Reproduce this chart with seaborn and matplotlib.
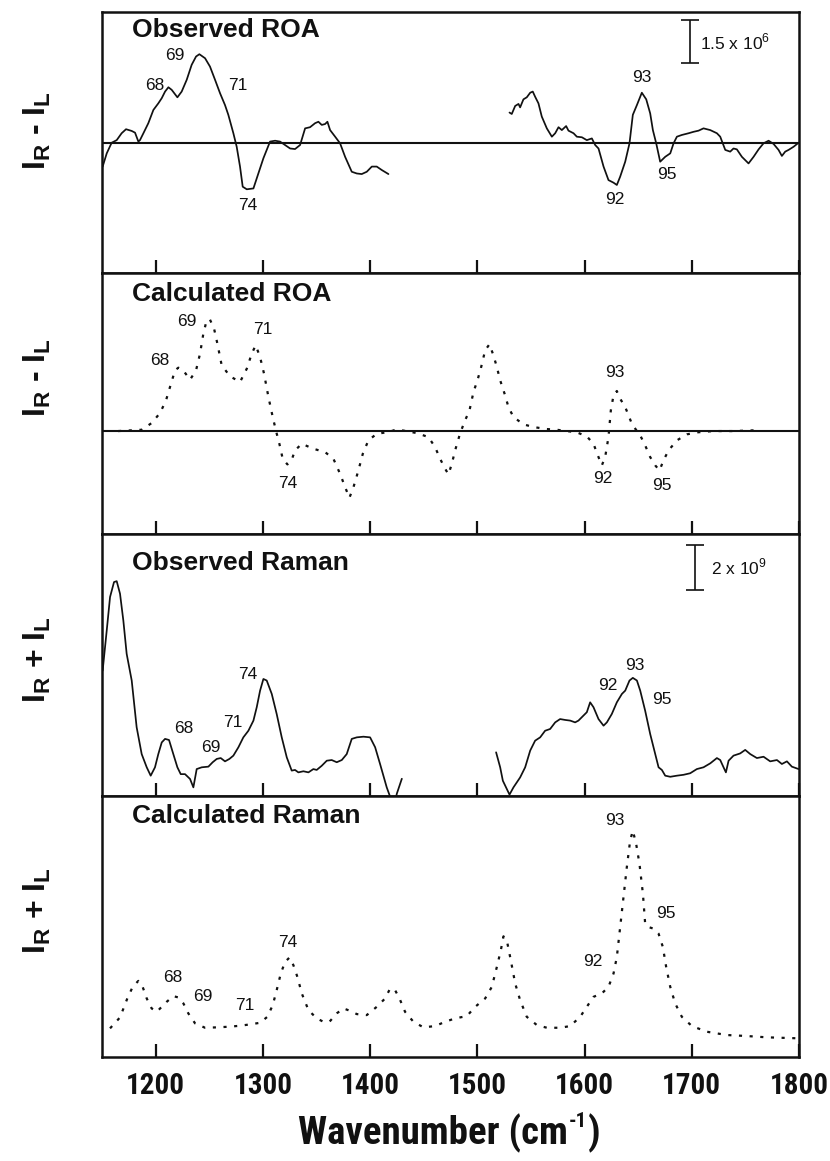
import matplotlib
matplotlib.use("Agg")
import matplotlib.pyplot as plt
import seaborn as sns
import pandas as pd
from matplotlib import font_manager
from matplotlib.font_manager import FontProperties

# ---------------- data (wavenumber in cm-1, intensities in arbitrary units) ----------------
# Observed ROA (units of 1e6), two measured segments
obs_roa_wn_a = [1150.6, 1154.4, 1159.0, 1163.7, 1168.3, 1172.4, 1177.7, 1180.8, 1183.9, 1185.4,
                1188.6, 1193.2, 1197.9, 1202.5, 1205.7, 1208.8, 1211.9, 1215.0, 1220.3, 1224.3,
                1229.0, 1233.6, 1237.7, 1240.8, 1246.1, 1250.7, 1255.4, 1260.1, 1264.7, 1267.8,
                1272.5, 1275.6, 1278.7, 1281.2, 1285.0, 1291.2, 1295.8, 1300.5, 1306.7, 1311.4,
                1316.0, 1320.7, 1325.4, 1330.0, 1334.7, 1339.4, 1344.0, 1348.7, 1351.8, 1354.9,
                1358.0, 1360.2, 1362.7, 1367.4, 1372.0, 1376.7, 1382.9, 1387.6, 1392.2, 1396.9,
                1401.6, 1406.2, 1410.9, 1417.1]
obs_roa_val_a = [-0.82, -0.36, 0.01, 0.10, 0.34, 0.48, 0.42, 0.36, 0.05, 0.10,
                 0.34, 0.69, 1.15, 1.38, 1.56, 1.79, 1.94, 1.85, 1.59, 1.79,
                 2.20, 2.72, 3.01, 3.09, 2.95, 2.66, 2.20, 1.73, 1.32, 0.98,
                 0.34, -0.13, -0.82, -1.52, -1.61, -1.58, -1.06, -0.53, 0.05, 0.08,
                 0.05, -0.07, -0.19, -0.21, -0.07, 0.51, 0.55, 0.69, 0.74, 0.63,
                 0.66, 0.74, 0.45, 0.22, -0.01, -0.48, -1.00, -1.06, -1.08, -1.00,
                 -0.82, -0.82, -0.94, -1.08]
obs_roa_wn_b = [1530.0, 1532.1, 1535.3, 1538.4, 1539.9, 1543.0, 1546.1, 1549.3, 1551.7, 1553.9,
                1557.0, 1560.1, 1564.8, 1569.5, 1572.6, 1575.7, 1578.8, 1582.8, 1585.0, 1589.7,
                1592.8, 1597.5, 1602.1, 1606.8, 1609.9, 1613.0, 1617.7, 1622.3, 1627.0, 1630.1,
                1633.2, 1637.9, 1641.9, 1645.0, 1648.8, 1653.4, 1657.5, 1661.2, 1663.7, 1666.8,
                1670.5, 1675.2, 1679.9, 1683.0, 1686.1, 1690.7, 1697.0, 1701.6, 1706.3, 1710.9,
                1717.2, 1723.4, 1726.5, 1731.2, 1735.8, 1738.9, 1742.0, 1746.7, 1752.9, 1757.6,
                1762.3, 1766.9, 1771.6, 1776.2, 1780.9, 1784.0, 1787.1, 1790.2, 1794.9, 1799.6]
obs_roa_val_b = [1.06, 1.01, 1.29, 1.36, 1.24, 1.52, 1.59, 1.75, 1.79, 1.61,
                 1.38, 0.92, 0.51, 0.22, 0.34, 0.55, 0.45, 0.59, 0.43, 0.34,
                 0.22, 0.20, 0.10, 0.16, -0.07, -0.19, -0.82, -1.29, -1.38, -1.46,
                 -1.17, -0.65, -0.01, 0.98, 1.32, 1.75, 1.52, 1.03, 0.45, -0.01,
                 -0.65, -0.48, -0.36, -0.01, 0.22, 0.28, 0.34, 0.39, 0.43, 0.51,
                 0.45, 0.34, 0.22, -0.24, -0.30, -0.19, -0.22, -0.48, -0.71, -0.48,
                 -0.22, -0.01, 0.08, -0.03, -0.24, -0.45, -0.30, -0.24, -0.13, 0.01]

# Calculated ROA (arbitrary units)
calc_roa_wn = [1165.0, 1187.0, 1196.3, 1204.1, 1209.7, 1213.4, 1218.1, 1221.2, 1225.3, 1232.1,
               1237.7, 1241.4, 1244.5, 1247.6, 1250.7, 1254.5, 1257.6, 1261.6, 1269.4, 1278.7,
               1285.0, 1289.6, 1293.3, 1297.4, 1301.1, 1305.2, 1309.2, 1312.3, 1315.4, 1318.5,
               1322.9, 1326.9, 1330.0, 1336.3, 1347.1, 1358.0, 1365.8, 1372.0, 1376.7, 1380.7,
               1384.5, 1389.1, 1393.2, 1398.4, 1406.2, 1417.1, 1424.9, 1443.5, 1454.4, 1460.6,
               1465.3, 1470.0, 1473.1, 1476.2, 1479.3, 1484.0, 1488.6, 1492.7, 1496.4, 1500.1,
               1503.2, 1507.3, 1511.3, 1515.0, 1518.2, 1521.3, 1525.9, 1529.0, 1533.7, 1543.0,
               1552.4, 1564.8, 1574.1, 1583.5, 1592.8, 1602.1, 1608.3, 1613.0, 1616.1, 1619.2,
               1622.3, 1624.5, 1627.0, 1630.1, 1633.2, 1637.9, 1644.1, 1648.8, 1651.9, 1656.5,
               1661.2, 1665.9, 1669.9, 1673.6, 1678.3, 1686.1, 1695.4, 1704.7, 1720.3, 1738.9,
               1757.6]
calc_roa_val = [0.0, 0.13, 0.8, 1.8, 3.07, 4.4, 6.07, 6.33, 6.13, 5.13,
                6.07, 7.73, 9.73, 11.07, 11.13, 10.23, 8.73, 6.57, 5.47, 4.9,
                6.23, 7.73, 8.57, 7.4, 5.73, 3.4, 1.4, 0.0, -1.27, -2.77,
                -3.33, -2.87, -1.93, -1.27, -1.77, -2.1, -2.77, -4.27, -5.6, -6.67,
                -5.6, -3.93, -2.27, -0.93, -0.27, -0.1, 0.17, -0.2, -0.6, -1.6,
                -2.77, -3.77, -4.33, -3.27, -1.93, -0.2, 1.07, 2.07, 3.9, 5.07,
                6.23, 8.07, 8.67, 7.57, 6.4, 5.07, 3.57, 2.4, 1.4, 0.67,
                0.4, 0.2, 0.13, 0.0, -0.13, -0.53, -1.27, -2.6, -3.43, -2.6,
                -0.6, 2.07, 3.57, 4.0, 3.23, 2.4, 0.73, 0.0, -0.43, -1.43,
                -2.6, -3.43, -3.93, -2.93, -1.93, -0.93, -0.33, -0.13, 0.0, 0.0,
                0.07]

# Observed Raman (units of 1e9), two measured segments
obs_ram_wn_a = [1150.6, 1154.4, 1157.5, 1161.2, 1163.7, 1166.8, 1169.9, 1173.0, 1177.7, 1182.3,
                1187.0, 1191.7, 1195.4, 1199.4, 1202.5, 1205.7, 1208.8, 1212.5, 1216.5, 1220.3,
                1223.4, 1227.4, 1232.1, 1235.2, 1238.3, 1243.0, 1249.2, 1253.2, 1257.0, 1260.7,
                1264.7, 1268.8, 1272.5, 1277.2, 1281.8, 1286.5, 1291.2, 1294.3, 1297.4, 1300.5,
                1303.6, 1308.3, 1312.9, 1317.6, 1322.3, 1326.9, 1330.0, 1333.1, 1337.8, 1342.5,
                1347.1, 1350.2, 1354.9, 1359.6, 1364.2, 1368.9, 1373.6, 1378.2, 1382.9, 1387.6,
                1393.8, 1400.0, 1404.7, 1409.3, 1412.4, 1415.5, 1418.7, 1422.0, 1424.9, 1429.6]
obs_ram_val_a = [5.68, 7.5, 9.02, 9.7, 9.74, 9.17, 7.95, 6.44, 5.23, 3.11,
                 1.89, 1.29, 0.91, 1.29, 1.89, 2.42, 2.58, 2.53, 1.89, 1.29,
                 0.98, 0.98, 0.76, 0.38, 1.21, 1.29, 1.32, 1.52, 1.67, 1.71,
                 1.56, 1.67, 1.82, 2.20, 2.65, 2.95, 3.41, 4.02, 4.77, 5.30,
                 5.23, 4.62, 3.71, 2.65, 1.74, 1.14, 1.17, 1.06, 1.11, 1.06,
                 1.21, 1.17, 1.36, 1.59, 1.62, 1.52, 1.62, 1.89, 2.58, 2.65,
                 2.68, 2.65, 2.20, 1.44, 0.91, 0.38, -0.05, -0.6, 0.09, 0.77]
obs_ram_wn_b = [1517.5, 1521.3, 1523.8, 1530.0, 1533.7, 1539.9, 1544.6, 1549.3, 1553.9, 1558.6,
                1563.2, 1567.9, 1572.6, 1577.2, 1581.9, 1586.6, 1591.2, 1594.3, 1599.0, 1602.1,
                1605.2, 1608.3, 1613.0, 1617.7, 1620.8, 1625.4, 1630.1, 1634.8, 1637.9, 1641.9,
                1645.0, 1648.8, 1651.9, 1656.5, 1661.2, 1665.9, 1669.0, 1672.1, 1675.2, 1679.9,
                1686.1, 1692.3, 1698.5, 1704.7, 1710.9, 1717.2, 1723.4, 1726.5, 1729.6, 1731.8,
                1734.3, 1738.9, 1745.1, 1749.8, 1754.5, 1760.7, 1766.9, 1773.1, 1779.4, 1784.0,
                1788.7, 1793.3, 1799.6]
obs_ram_val_b = [1.97, 1.29, 0.68, 0.05, 0.38, 0.83, 1.29, 2.05, 2.5, 2.65,
                 2.95, 3.03, 3.33, 3.48, 3.44, 3.41, 3.33, 3.41, 3.64, 3.79,
                 4.24, 4.02, 3.48, 3.18, 3.33, 3.71, 4.24, 4.62, 4.77, 5.23,
                 5.35, 5.23, 4.77, 3.86, 2.80, 1.89, 1.29, 1.17, 0.91, 0.86,
                 0.91, 0.95, 1.02, 1.21, 1.29, 1.47, 1.71, 1.62, 1.29, 1.06,
                 1.59, 1.82, 1.92, 2.08, 1.89, 1.71, 1.77, 1.56, 1.62, 1.44,
                 1.56, 1.32, 1.21]

# Calculated Raman (arbitrary units)
calc_ram_wn = [1157.5, 1166.8, 1173.6, 1178.6, 1183.9, 1187.9, 1191.7, 1196.3, 1201.0, 1205.7,
               1210.3, 1216.5, 1221.2, 1225.9, 1230.5, 1236.8, 1246.1, 1257.0, 1267.8, 1278.7,
               1288.1, 1297.4, 1304.2, 1309.2, 1312.9, 1316.7, 1320.7, 1324.8, 1328.5, 1332.2,
               1336.3, 1342.5, 1350.2, 1356.5, 1362.1, 1368.9, 1375.1, 1381.3, 1387.6, 1396.9,
               1406.2, 1414.0, 1418.7, 1423.3, 1427.4, 1432.6, 1440.4, 1449.8, 1460.6, 1470.0,
               1479.3, 1490.2, 1498.0, 1507.3, 1513.5, 1518.2, 1521.9, 1524.4, 1528.1, 1531.2,
               1535.3, 1539.9, 1546.1, 1555.5, 1564.8, 1577.2, 1586.6, 1595.9, 1602.1, 1608.3,
               1616.1, 1622.3, 1627.0, 1630.1, 1633.2, 1636.3, 1639.4, 1642.5, 1645.0, 1648.1,
               1651.2, 1654.4, 1656.5, 1659.6, 1664.3, 1669.0, 1673.0, 1676.1, 1679.9, 1684.5,
               1690.7, 1700.1, 1714.1, 1732.7, 1751.4, 1770.0, 1799.6]
calc_ram_val = [2.87, 3.97, 5.87, 7.03, 7.63, 7.03, 5.87, 4.87, 4.53, 5.03,
                5.53, 6.1, 5.97, 5.37, 4.37, 3.37, 2.93, 2.97, 3.03, 3.13,
                3.27, 3.43, 4.03, 5.2, 6.7, 8.37, 9.53, 9.97, 9.2, 8.03,
                6.37, 4.7, 3.87, 3.53, 3.53, 4.37, 4.87, 4.63, 4.3, 4.2,
                5.03, 5.87, 6.87, 6.7, 5.87, 4.53, 3.53, 2.97, 3.1, 3.53,
                3.87, 4.1, 5.03, 5.87, 7.03, 9.03, 10.7, 12.1, 11.37, 9.7,
                7.37, 5.7, 4.03, 3.2, 2.93, 2.93, 3.1, 4.03, 5.03, 6.03,
                6.37, 7.03, 8.37, 10.03, 13.03, 16.03, 19.03, 21.7, 22.7, 21.37,
                19.37, 16.37, 13.37, 13.03, 12.87, 12.37, 11.03, 9.03, 7.03, 5.37,
                4.03, 3.1, 2.53, 2.2, 2.1, 1.97, 1.87]

# Scale bars (in panel units): 1.5 x 10^6 and 2 x 10^9
roa_bar_value = 1.5
raman_bar_value = 2.0

panel_titles = ["Observed ROA", "Calculated ROA", "Observed Raman", "Calculated Raman"]
y_labels = [r"$\mathbf{I_R}$ - $\mathbf{I_L}$", r"$\mathbf{I_R}$ - $\mathbf{I_L}$",
            r"$\mathbf{I_R}$ + $\mathbf{I_L}$", r"$\mathbf{I_R}$ + $\mathbf{I_L}$"]
x_ticks = [1200, 1300, 1400, 1500, 1600, 1700, 1800]
x_label_parts = ["Wavenumber (cm", "-1", ")"]

# mode labels: (text, wavenumber, value)
labels_obs_roa = [("68", 1199, 1.99), ("69", 1218, 3.03), ("71", 1277, 1.99), ("74", 1286, -2.16),
                  ("93", 1653, 2.29), ("92", 1628, -1.96), ("95", 1677, -1.08)]
labels_calc_roa = [("68", 1204, 7.0), ("69", 1229, 10.9), ("71", 1300, 10.1), ("74", 1323, -5.26),
                   ("93", 1628, 5.9), ("92", 1617, -4.76), ("95", 1672, -5.43)]
labels_obs_ram = [("74", 1286, 5.49), ("68", 1226, 3.03), ("71", 1272, 3.33), ("69", 1251, 2.2),
                  ("93", 1647, 5.91), ("92", 1622, 5.0), ("95", 1672, 4.35)]
labels_calc_ram = [("74", 1323, 11.43), ("68", 1216, 7.97), ("69", 1244, 6.1), ("71", 1283, 5.2),
                   ("93", 1628, 23.7), ("95", 1676, 14.43), ("92", 1608, 9.6)]

# ---------------- styling ----------------
sns.set_theme(style="white")
plt.rcParams["font.family"] = ["Liberation Sans", "DejaVu Sans"]


def _wt(w):
    if isinstance(w, str):
        return font_manager.weight_dict.get(w.lower(), 400)
    return int(w)


def find_condensed_bold():
    prefs = ["Liberation Sans Narrow", "Arial Narrow", "Roboto Condensed",
             "Open Sans Condensed", "DejaVu Sans Condensed", "Noto Sans Condensed"]
    flist = font_manager.fontManager.ttflist
    for name in prefs:
        for f in flist:
            if f.name == name and _wt(f.weight) >= 600 and "italic" not in str(f.style).lower():
                return f
    for f in flist:
        low = f.fname.lower()
        if (("narrow" in low or "cond" in low) and _wt(f.weight) >= 600
                and "italic" not in low and "oblique" not in low):
            return f
    for f in flist:
        if str(f.stretch).lower() in ("condensed", "semi-condensed", "extra-condensed") \
                and _wt(f.weight) >= 600 and "italic" not in str(f.style).lower():
            return f
    return None


cond = find_condensed_bold()
if cond is not None:
    tick_fp = FontProperties(fname=cond.fname, size=21)
    xlab_fp = FontProperties(fname=cond.fname, size=28)
    sup_fp = FontProperties(fname=cond.fname, size=15)
else:
    tick_fp = FontProperties(family="Liberation Sans", weight="bold", size=17)
    xlab_fp = FontProperties(family="Liberation Sans", weight="bold", size=23)
    sup_fp = FontProperties(family="Liberation Sans", weight="bold", size=12)

plt.rcParams["mathtext.fontset"] = "custom"
plt.rcParams["mathtext.rm"] = "Liberation Sans"
plt.rcParams["mathtext.bf"] = "Liberation Sans:bold"

INK = "#111111"
FIG_W, FIG_H = 830, 1161
fig = plt.figure(figsize=(FIG_W / 100, FIG_H / 100), dpi=100)
axes = fig.subplots(4, 1, sharex=True, gridspec_kw=dict(hspace=0))
fig.subplots_adjust(left=0.1229, right=0.9627, top=0.9897, bottom=0.0896)

ylims = [(-4.53, 4.56), (-10.33, 15.77), (0.0, 11.86), (0.0, 26.2)]
title_y = [0.975, 0.965, 0.935, 0.97]
ylabel_y = [0.545, 0.60, 0.52, 0.56]

solid = dict(color=INK, lw=1.25, estimator=None, sort=False, legend=False)
dotted = dict(color=INK, lw=1.6, estimator=None, sort=False, legend=False,
              linestyle=(0, (1.4, 3.4)))


def seg(wn, val):
    return pd.DataFrame({"wn": wn, "val": val})


sns.lineplot(data=seg(obs_roa_wn_a, obs_roa_val_a), x="wn", y="val", ax=axes[0], **solid)
sns.lineplot(data=seg(obs_roa_wn_b, obs_roa_val_b), x="wn", y="val", ax=axes[0], **solid)
sns.lineplot(data=seg(calc_roa_wn, calc_roa_val), x="wn", y="val", ax=axes[1], **dotted)
sns.lineplot(data=seg(obs_ram_wn_a, obs_ram_val_a), x="wn", y="val", ax=axes[2], **solid)
sns.lineplot(data=seg(obs_ram_wn_b, obs_ram_val_b), x="wn", y="val", ax=axes[2], **solid)
sns.lineplot(data=seg(calc_ram_wn, calc_ram_val), x="wn", y="val", ax=axes[3], **dotted)

for ax in axes[:2]:
    ax.axhline(0, color=INK, lw=1.5, zorder=1)

all_labels = [labels_obs_roa, labels_calc_roa, labels_obs_ram, labels_calc_ram]
for i, ax in enumerate(axes):
    ax.set_xlim(1150, 1800)
    ax.set_ylim(*ylims[i])
    ax.set_yticks([])
    ax.set_xticks(x_ticks)
    for sp in ax.spines.values():
        sp.set_visible(True)
        sp.set_color(INK)
        sp.set_linewidth(1.8)
    ax.tick_params(axis="x", direction="in", length=9.5, width=1.6, color=INK,
                   bottom=True, top=False, labelbottom=(i == 3), pad=11)
    ax.text(0.043, title_y[i], panel_titles[i], transform=ax.transAxes, ha="left", va="top",
            fontsize=19, fontweight="bold", color=INK)
    ax.set_ylabel(y_labels[i], fontsize=23, fontweight="bold", color=INK)
    ax.yaxis.set_label_coords(-0.07, ylabel_y[i])
    ax.set_xlabel("")
    for txt, xw, yv in all_labels[i]:
        ax.text(xw, yv, txt, ha="center", va="center", fontsize=12.5, color=INK)

# scale bars
axes[0].errorbar(1698, 2.79 + roa_bar_value / 2, yerr=roa_bar_value / 2, color=INK,
                 lw=1.2, capsize=6.5, capthick=1.2, fmt="none")
axes[0].text(1707.5, 3.52, r"1.5 x 10$^6$", ha="left", va="center", fontsize=12.5, color=INK)
axes[2].errorbar(1703, 9.36 + raman_bar_value / 2, yerr=raman_bar_value / 2, color=INK,
                 lw=1.2, capsize=6.5, capthick=1.2, fmt="none")
axes[2].text(1718, 10.36, r"2 x 10$^9$", ha="left", va="center", fontsize=12.5, color=INK)

bottom = axes[3]
for lab in bottom.get_xticklabels():
    lab.set_fontproperties(tick_fp)
    lab.set_color(INK)

# x-axis title built from pieces so the superscript can be small
renderer = fig.canvas.get_renderer()
fps = [xlab_fp, sup_fp, xlab_fp]
rises = [0, 17, 0]
pieces = [fig.text(0, 0, s, fontproperties=fp, color=INK, ha="left", va="baseline")
          for s, fp in zip(x_label_parts, fps)]
widths = [p.get_window_extent(renderer).width for p in pieces]
gaps = [1, 1, 0]
total = sum(widths) + sum(gaps)
x_px = 449 - total / 2
base_px = FIG_H - 1144
for p, w, r, g in zip(pieces, widths, rises, gaps):
    p.set_position((x_px / FIG_W, (base_px + r) / FIG_H))
    x_px += w + g

fig.savefig("out.png", dpi=100, facecolor="white")
